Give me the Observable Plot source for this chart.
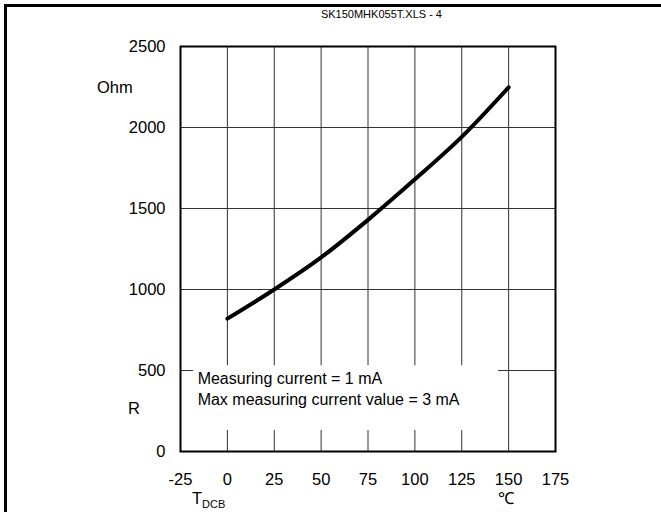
<!DOCTYPE html>
<html>
<head>
<meta charset="utf-8">
<script src="https://cdn.jsdelivr.net/npm/d3@7"></script>
<script src="https://cdn.jsdelivr.net/npm/@observablehq/plot@0.6"></script>
<style>
  html, body { margin: 0; padding: 0; background: #fff; }
  #wrap { position: relative; width: 661px; height: 512px; overflow: hidden; font-family: "Liberation Sans", Arial, sans-serif; color: #000; }
  #wrap svg { position: absolute; left: 0; top: 0; }
  .lbl { position: absolute; white-space: nowrap; line-height: 1; }
</style>
</head>
<body>
<div id="wrap"></div>
<script>
// Data
const temperatures = [0, 25, 50, 75, 100, 125, 150];          // T_DCB, °C
const resistances  = [820, 1000, 1198, 1430, 1680, 1942, 2248]; // R, Ohm
const xTicks = [-25, 0, 25, 50, 75, 100, 125, 150, 175];
const yTicks = [0, 500, 1000, 1500, 2000, 2500];
const noteLines = ["Measuring current = 1 mA", "Max measuring current value = 3 mA"];
const noteBoxX = [-18, 144.7];   // annotation box extent (°C)
const noteBoxY = [130, 530];     // annotation box extent (Ohm)

const data = temperatures.map((t, i) => ({t, r: resistances[i]}));

const chart = Plot.plot({
  width: 661,
  height: 512,
  marginLeft: 180,
  marginRight: 106,
  marginTop: 46,
  marginBottom: 61,
  style: {fontFamily: "'Liberation Sans', Arial, sans-serif", fontSize: "16px", background: "transparent", color: "#000"},
  x: {domain: [-25, 175], ticks: xTicks},
  y: {domain: [0, 2500], ticks: yTicks},
  marks: [
    Plot.gridX(xTicks, {stroke: "#333", strokeOpacity: 1, strokeWidth: 1}),
    Plot.gridY(yTicks, {stroke: "#333", strokeOpacity: 1, strokeWidth: 1}),
    Plot.rect([{}], {x1: noteBoxX[0], x2: noteBoxX[1], y1: noteBoxY[0], y2: noteBoxY[1], fill: "#fff"}),
    Plot.frame({stroke: "#000", strokeWidth: 2}),
    Plot.axisX(xTicks, {tickSize: 0, tickPadding: 22, fontSize: 16.5, label: null, tickFormat: d => String(d)}),
    Plot.axisY(yTicks, {tickSize: 0, tickPadding: 15, fontSize: 16.5, label: null, tickFormat: d => String(d)}),
    Plot.line(data, {x: "t", y: "r", curve: "monotone-x", stroke: "#000", strokeWidth: 4}),
    Plot.text([noteLines.join("\n")], {x: noteBoxX[0], y: noteBoxY[1], text: d => d, dx: 4, dy: 4,
      textAnchor: "start", lineAnchor: "top", lineHeight: 1.3, fontSize: 16})
  ]
});
document.getElementById("wrap").appendChild(chart);

const wrap = document.getElementById("wrap");
const add = (html, css) => { const d = document.createElement("div"); d.className = "lbl"; d.innerHTML = html; Object.assign(d.style, css); wrap.appendChild(d); };
add("", {left: "4px", top: "4px", width: "3px", height: "508px", background: "#000"});
add("", {left: "4px", top: "4px", width: "657px", height: "3px", background: "#000"});
add("SK150MHK055T.XLS - 4", {right: "219px", top: "9px", fontSize: "11px"});
add("Ohm", {left: "97px", top: "79px", fontSize: "16.5px"});
add("R", {left: "128px", top: "400px", fontSize: "16.5px"});
add("T<sub style='font-size:11px;vertical-align:-4px'>DCB</sub>", {left: "192px", top: "490px", fontSize: "16.5px"});
add("℃", {left: "498px", top: "490px", fontSize: "16.5px"});
</script>
</body>
</html>
